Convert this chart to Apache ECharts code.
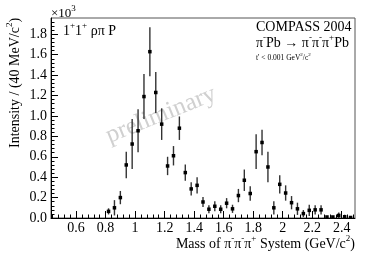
<!DOCTYPE html>
<html>
<head>
<meta charset="utf-8">
<script src="https://cdn.jsdelivr.net/npm/echarts@6/dist/echarts.min.js"></script>
<style>
html,body{margin:0;padding:0;background:#fff;}
#chart{width:374px;height:253px;}
</style>
</head>
<body>
<div id="chart"></div>
<script>
// Bin centres (GeV/c^2)
const mass = [0.82,0.86,0.90,0.94,0.98,1.02,1.06,1.10,1.14,1.18,1.22,1.26,1.30,1.34,1.38,1.42,1.46,1.50,1.54,1.58,1.62,1.66,1.70,1.74,1.78,1.82,1.86,1.90,1.94,1.98,2.02,2.06,2.10,2.14,2.18,2.22,2.26,2.30,2.34,2.38,2.42,2.46];
// Intensity (x10^3)
const intensity = [0.065,0.10,0.20,0.52,0.725,0.855,1.19,1.63,1.23,0.92,0.51,0.61,0.88,0.445,0.285,0.32,0.157,0.086,0.115,0.086,0.145,0.09,0.22,0.37,0.24,0.65,0.74,0.50,0.10,0.33,0.245,0.15,0.09,0.043,0.075,0.08,0.08,0.01,0.01,0.025,0.012,0.005];
// Statistical errors (x10^3)
const errors = [0.03,0.075,0.065,0.13,0.245,0.21,0.22,0.24,0.20,0.155,0.09,0.095,0.115,0.08,0.065,0.08,0.05,0.04,0.05,0.04,0.05,0.04,0.065,0.105,0.07,0.17,0.125,0.15,0.065,0.09,0.075,0.065,0.06,0.035,0.055,0.045,0.045,0.01,0.01,0.03,0.02,0.01];
// Tick labels
const xMajor = [0.6,0.8,1,1.2,1.4,1.6,1.8,2,2.2,2.4];
const xMinor = [0.44,0.48,0.52,0.56,0.64,0.68,0.72,0.76,0.84,0.88,0.92,0.96,1.04,1.08,1.12,1.16,1.24,1.28,1.32,1.36,1.44,1.48,1.52,1.56,1.64,1.68,1.72,1.76,1.84,1.88,1.92,1.96,2.04,2.08,2.12,2.16,2.24,2.28,2.32,2.36,2.44,2.48];
const yMajor = [0,0.2,0.4,0.6,0.8,1.0,1.2,1.4,1.6,1.8];
const yMinor = [0.04,0.08,0.12,0.16,0.24,0.28,0.32,0.36,0.44,0.48,0.52,0.56,0.64,0.68,0.72,0.76,0.84,0.88,0.92,0.96,1.04,1.08,1.12,1.16,1.24,1.28,1.32,1.36,1.44,1.48,1.52,1.56,1.64,1.68,1.72,1.76,1.84,1.88,1.92];

const FONT = "'Liberation Serif','DejaVu Serif',serif";
const X_MIN = 0.43, X_MAX = 2.49, Y_MIN = 0, Y_MAX = 1.96;

const chart = echarts.init(document.getElementById('chart'), null, {renderer:'canvas'});

const points = mass.map((m,i)=>[m, intensity[i], errors[i]]);

function richStyle(size, supSize){
  return {
    n:{fontFamily:FONT,fontSize:size,color:'#000',lineHeight:size+3,verticalAlign:'bottom'},
    s:{fontFamily:FONT,fontSize:supSize,color:'#000',lineHeight:supSize,verticalAlign:'top'}
  };
}

const option = {
  animation:false,
  backgroundColor:'#fff',
  grid:{left:51,right:19,top:18,bottom:35,show:true,borderColor:'#555',borderWidth:1,backgroundColor:'transparent'},
  xAxis:[
    {type:'value',min:X_MIN,max:X_MAX,position:'bottom',
     axisLine:{show:true,lineStyle:{color:'#000',width:1}},
     axisTick:{show:true,inside:true,length:7,customValues:xMajor,lineStyle:{color:'#000',width:1}},
     axisLabel:{show:true,customValues:xMajor,margin:3,color:'#000',fontFamily:FONT,fontSize:14,
       formatter:v=>String(Math.round(v*10)/10)},
     splitLine:{show:false}},
    {type:'value',min:X_MIN,max:X_MAX,position:'bottom',
     axisLine:{show:false},
     axisTick:{show:true,inside:true,length:3.5,customValues:xMinor,lineStyle:{color:'#000',width:1}},
     axisLabel:{show:false},
     splitLine:{show:false}}
  ],
  yAxis:[
    {type:'value',min:Y_MIN,max:Y_MAX,position:'left',
     axisLine:{show:true,lineStyle:{color:'#000',width:1}},
     axisTick:{show:true,inside:true,length:7,customValues:yMajor,lineStyle:{color:'#000',width:1}},
     axisLabel:{show:true,customValues:yMajor,margin:4,color:'#000',fontFamily:FONT,fontSize:14,
       formatter:v=>v.toFixed(1)},
     splitLine:{show:false}},
    {type:'value',min:Y_MIN,max:Y_MAX,position:'left',
     axisLine:{show:false},
     axisTick:{show:true,inside:true,length:3.5,customValues:yMinor,lineStyle:{color:'#000',width:1}},
     axisLabel:{show:false},
     splitLine:{show:false}}
  ],
  graphic:[
    {type:'text',z:0,x:161,y:115,rotation:22*Math.PI/180,
     style:{text:'preliminary',fill:'#d0d0d0',font:'25px '+FONT,textAlign:'center',textVerticalAlign:'middle'}},
    {type:'text',x:51,y:12,style:{text:'{n|\u00d710}{s|3}',rich:richStyle(13,9),textAlign:'left',textVerticalAlign:'middle'}},
    {type:'text',x:63,y:30,style:{text:'{n|1}{s|+}{n|1}{s|+}{n| \u03c1\u03c0 P}',rich:richStyle(14,9),textAlign:'left',textVerticalAlign:'middle'}},
    {type:'text',x:256,y:27,style:{text:'COMPASS 2004',fill:'#000',font:'14px '+FONT,textAlign:'left',textVerticalAlign:'middle'}},
    {type:'text',x:256,y:42,style:{text:'{n|\u03c0}{s|-}{n|Pb \u2192 \u03c0}{s|-}{n|\u03c0}{s|-}{n|\u03c0}{s|+}{n|Pb}',rich:richStyle(14,9),textAlign:'left',textVerticalAlign:'middle'}},
    {type:'text',x:256,y:57,style:{text:"{n|t' < 0.001 GeV}{s|2}{n|/c}{s|2}",rich:richStyle(7.5,5),textAlign:'left',textVerticalAlign:'middle'}},
    {type:'text',x:355,y:243,style:{text:'{n|Mass of \u03c0}{s|-}{n|\u03c0}{s|-}{n|\u03c0}{s|+}{n| System (GeV/c}{s|2}{n|)}',rich:richStyle(14,9),textAlign:'right',textVerticalAlign:'middle'}},
    {type:'text',x:14,y:148,rotation:Math.PI/2,style:{text:'{n|Intensity / (40 MeV/c}{s|2}{n|)}',rich:richStyle(14,9),textAlign:'left',textVerticalAlign:'middle'}}
  ],
  series:[
    {type:'custom',xAxisIndex:0,yAxisIndex:0,clip:true,z:5,
     data:points,
     renderItem:function(params,api){
       const x=api.value(0), y=api.value(1), e=api.value(2);
       const t=api.coord([x,y+e]), b=api.coord([x,Math.max(0,y-e)]), c=api.coord([x,y]);
       return {type:'group',children:[
         {type:'line',shape:{x1:t[0],y1:t[1],x2:b[0],y2:b[1]},style:{stroke:'#333',lineWidth:1.4}},
         {type:'rect',shape:{x:c[0]-1.75,y:c[1]-1.75,width:3.5,height:3.5},style:{fill:'#000'}}
       ]};
     }}
  ]
};
chart.setOption(option);
</script>
</body>
</html>
